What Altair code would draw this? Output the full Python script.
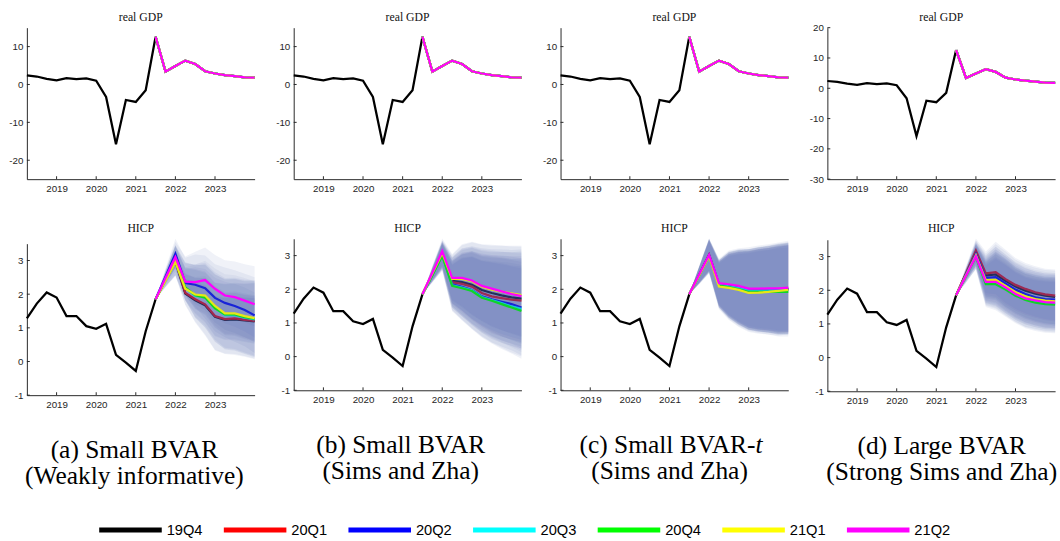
import altair as alt
import pandas as pd

# Quarterly time grid (fractional years) and year ticks
quarters_hist = [2018.25, 2018.5, 2018.75, 2019.0, 2019.25, 2019.5, 2019.75,
                 2020.0, 2020.25, 2020.5, 2020.75, 2021.0, 2021.25, 2021.5]
quarters_fc = [2021.5, 2021.75, 2022.0, 2022.25, 2022.5, 2022.75,
               2023.0, 2023.25, 2023.5, 2023.75, 2024.0]
year_ticks = [2019, 2020, 2021, 2022, 2023]

# Observed data
gdp_hist = [2.4, 2.1, 1.5, 1.1, 1.7, 1.4, 1.6, 1.0, -3.3, -15.8, -4.1, -4.6, -1.5, 12.6]
hicp_hist = [1.28, 1.72, 2.05, 1.90, 1.35, 1.35, 1.05, 0.97, 1.12, 0.20, -0.03, -0.28, 0.90, 1.85]

# Conditional real GDP path (identical across estimation vintages)
gdp_fc = [12.6, 3.4, 4.9, 6.3, 5.4, 3.5, 2.9, 2.5, 2.2, 1.9, 1.8]

vintages = ["19Q4", "20Q1", "20Q2", "20Q3", "20Q4", "21Q1", "21Q2"]
vintage_colors = ["#000000", "#ff0000", "#0000ff", "#00ffff", "#00ff00", "#ffff00", "#ff00ff"]

# HICP median forecasts, one path per vintage (order of `vintages`)
hicp_fc_a = [
    [1.85, 2.42, 2.98, 2.02, 1.82, 1.67, 1.33, 1.24, 1.25, 1.22, 1.19],
    [1.85, 2.43, 3.00, 2.04, 1.85, 1.70, 1.35, 1.26, 1.28, 1.24, 1.21],
    [1.85, 2.52, 3.20, 2.33, 2.28, 2.18, 1.89, 1.74, 1.65, 1.53, 1.37],
    [1.85, 2.43, 3.00, 2.18, 1.95, 1.92, 1.60, 1.38, 1.38, 1.30, 1.25],
    [1.85, 2.43, 3.00, 2.20, 1.97, 1.90, 1.58, 1.40, 1.40, 1.32, 1.27],
    [1.85, 2.40, 2.96, 2.16, 1.99, 1.96, 1.65, 1.43, 1.43, 1.35, 1.29],
    [1.85, 2.48, 3.10, 2.37, 2.36, 2.42, 2.16, 1.96, 1.91, 1.81, 1.70],
]
hicp_fc_b = [
    [1.85, 2.45, 3.05, 2.25, 2.21, 2.13, 1.98, 1.89, 1.82, 1.76, 1.72],
    [1.85, 2.45, 3.05, 2.21, 2.16, 2.08, 1.89, 1.79, 1.74, 1.69, 1.66],
    [1.85, 2.43, 3.02, 2.15, 2.07, 1.98, 1.79, 1.70, 1.63, 1.56, 1.46],
    [1.85, 2.43, 3.02, 2.12, 2.05, 1.97, 1.77, 1.68, 1.59, 1.49, 1.42],
    [1.85, 2.42, 3.00, 2.10, 2.03, 1.95, 1.75, 1.66, 1.56, 1.46, 1.36],
    [1.85, 2.47, 3.08, 2.31, 2.31, 2.24, 2.08, 1.99, 1.93, 1.88, 1.83],
    [1.85, 2.49, 3.13, 2.34, 2.34, 2.26, 2.10, 2.02, 1.94, 1.86, 1.80],
]
hicp_fc_c = [
    [1.85, 2.43, 3.02, 2.15, 2.12, 2.07, 1.97, 1.98, 1.99, 2.00, 2.01],
    [1.85, 2.43, 3.02, 2.14, 2.11, 2.06, 1.96, 1.97, 1.98, 1.99, 2.00],
    [1.85, 2.43, 3.01, 2.13, 2.10, 2.05, 1.95, 1.96, 1.97, 1.98, 1.99],
    [1.85, 2.42, 3.00, 2.13, 2.09, 2.04, 1.96, 1.96, 1.97, 1.97, 1.98],
    [1.85, 2.42, 2.99, 2.11, 2.06, 2.00, 1.92, 1.92, 1.92, 1.92, 1.92],
    [1.85, 2.41, 2.98, 2.08, 2.04, 1.98, 1.89, 1.90, 1.92, 1.95, 1.98],
    [1.85, 2.44, 3.02, 2.18, 2.15, 2.10, 2.02, 2.02, 2.03, 2.03, 2.05],
]
hicp_fc_d = [
    [1.85, 2.48, 3.12, 2.44, 2.47, 2.28, 2.11, 1.99, 1.90, 1.84, 1.80],
    [1.85, 2.51, 3.18, 2.50, 2.54, 2.33, 2.16, 2.04, 1.94, 1.88, 1.84],
    [1.85, 2.47, 3.08, 2.37, 2.39, 2.20, 2.02, 1.89, 1.79, 1.74, 1.72],
    [1.85, 2.44, 3.03, 2.22, 2.22, 2.05, 1.87, 1.74, 1.67, 1.62, 1.60],
    [1.85, 2.42, 3.00, 2.18, 2.18, 2.02, 1.84, 1.71, 1.63, 1.59, 1.57],
    [1.85, 2.44, 3.03, 2.30, 2.31, 2.13, 1.94, 1.82, 1.74, 1.69, 1.67],
    [1.85, 2.43, 3.01, 2.25, 2.25, 2.08, 1.89, 1.76, 1.70, 1.65, 1.63],
]

# Credible-band distances from each median path (outer and inner bands)
bands_a = {
    "outer_up": [0, 0.25, 0.45, 0.75, 0.90, 0.97, 1.00, 1.05, 1.06, 1.08, 1.13],
    "outer_dn": [0, 0.20, 0.43, 0.35, 0.66, 0.90, 1.00, 1.02, 1.06, 1.08, 1.12],
    "inner_up": [0, 0.12, 0.22, 0.42, 0.52, 0.57, 0.60, 0.63, 0.65, 0.67, 0.68],
    "inner_dn": [0, 0.10, 0.20, 0.22, 0.40, 0.52, 0.58, 0.60, 0.62, 0.64, 0.66],
}
bands_b = {
    "outer_up": [0, 0.20, 0.38, 0.71, 1.00, 1.15, 1.24, 1.30, 1.36, 1.41, 1.46],
    "outer_dn": [0, 0.22, 0.45, 0.75, 0.96, 1.14, 1.18, 1.27, 1.33, 1.37, 1.42],
    "inner_up": [0, 0.17, 0.32, 0.62, 0.88, 1.00, 1.08, 1.13, 1.18, 1.22, 1.26],
    "inner_dn": [0, 0.19, 0.38, 0.65, 0.84, 1.00, 1.03, 1.10, 1.15, 1.18, 1.22],
}
bands_c = {
    "outer_up": [0, 0.25, 0.49, 0.73, 1.00, 1.12, 1.23, 1.28, 1.31, 1.36, 1.39],
    "outer_dn": [0, 0.26, 0.51, 0.67, 0.95, 1.10, 1.16, 1.22, 1.26, 1.32, 1.32],
    "inner_up": [0, 0.22, 0.45, 0.68, 0.94, 1.06, 1.17, 1.22, 1.25, 1.29, 1.32],
    "inner_dn": [0, 0.23, 0.46, 0.62, 0.89, 1.04, 1.10, 1.16, 1.20, 1.25, 1.26],
}
bands_d = {
    "outer_up": [0, 0.20, 0.36, 0.65, 0.90, 0.87, 0.80, 0.77, 0.77, 0.76, 0.78],
    "outer_dn": [0, 0.20, 0.38, 0.68, 0.77, 0.81, 0.82, 0.84, 0.84, 0.85, 0.85],
    "inner_up": [0, 0.15, 0.30, 0.55, 0.75, 0.72, 0.68, 0.66, 0.66, 0.66, 0.67],
    "inner_dn": [0, 0.15, 0.30, 0.58, 0.66, 0.70, 0.71, 0.72, 0.72, 0.73, 0.73],
}

gdp_domains = [[-25, 15], [-25, 15], [-25, 15], [-30, 20]]
gdp_ticks = [[-20, -10, 0, 10], [-20, -10, 0, 10], [-20, -10, 0, 10], [-30, -20, -10, 0, 10, 20]]
hicp_domain = [-1, 3.5]
hicp_ticks = [-1, 0, 1, 2, 3]

caption_lines = [
    ["(a) Small BVAR", "(Weakly informative)"],
    ["(b) Small BVAR", "(Sims and Zha)"],
    ["(c) Small BVAR-", "(Sims and Zha)"],
    ["(d) Large BVAR", "(Strong Sims and Zha)"],
]
caption_italic_tail = [None, None, "t", None]
caption_centers = [110, 109.5, 111.5, 117]

W, H = 233, 155
AXIS_EXT = 25
INK = "#262626"
BAND = "#3c5aaa"
A_OUT, A_IN = 0.08, 0.06
LW = 2.3
SERIF = "Liberation Serif"
SANS = "Liberation Sans"
CAP_SIZE = 26

color_scale = alt.Scale(domain=vintages, range=vintage_colors)


def fc_frame(paths, bands=None):
    rows = []
    for v, path in zip(vintages, paths):
        for i, (x, y) in enumerate(zip(quarters_fc, path)):
            row = {"vintage": v, "x": x, "y": y}
            if bands is not None:
                row["o_lo"] = y - bands["outer_dn"][i]
                row["o_hi"] = y + bands["outer_up"][i]
                row["i_lo"] = y - bands["inner_dn"][i]
                row["i_hi"] = y + bands["inner_up"][i]
            rows.append(row)
    return pd.DataFrame(rows)


def panel(title, hist, fc_df, domain, ticks, with_bands, title_offset=4):
    xs = alt.Scale(domain=[2018.25, 2024.0], nice=False, zero=False)
    ys = alt.Scale(domain=domain, nice=False, zero=False)
    x_axis = alt.Axis(values=year_ticks, format="d", labelPadding=5,
                      ticks=False, grid=False, title=None)
    y_axis = alt.Axis(values=ticks, labelExpr="'' + datum.value", labelPadding=4,
                      ticks=False, grid=False, title=None,
                      minExtent=AXIS_EXT, maxExtent=AXIS_EXT)
    X = alt.X("x:Q", scale=xs, axis=x_axis)
    hist_df = pd.DataFrame({"x": quarters_hist, "y": hist})
    layers = [alt.Chart(hist_df).mark_line(color="black", strokeWidth=LW).encode(
        x=X, y=alt.Y("y:Q", scale=ys, axis=y_axis))]
    base = alt.Chart(fc_df)
    for v in vintages:
        sub = base.transform_filter(alt.datum.vintage == v)
        if with_bands:
            layers.append(sub.mark_area(color=BAND, opacity=A_OUT).encode(
                x=X, y=alt.Y("o_lo:Q", scale=ys, axis=y_axis), y2="o_hi:Q"))
            layers.append(sub.mark_area(color=BAND, opacity=A_IN).encode(
                x=X, y=alt.Y("i_lo:Q", scale=ys, axis=y_axis), y2="i_hi:Q"))
        layers.append(sub.mark_line(strokeWidth=LW).encode(
            x=X, y=alt.Y("y:Q", scale=ys, axis=y_axis),
            color=alt.Color("vintage:N", scale=color_scale, legend=None)))
    # inward tick marks on both axes
    xt = alt.Chart(pd.DataFrame({"x": year_ticks})).mark_rule(color=INK, strokeWidth=1).encode(
        x=X, y=alt.value(H), y2=alt.value(H - 3))
    yt = alt.Chart(pd.DataFrame({"y": ticks})).mark_rule(color=INK, strokeWidth=1).encode(
        y=alt.Y("y:Q", scale=ys, axis=y_axis), x=alt.value(0), x2=alt.value(3))
    layers += [xt, yt]
    return alt.layer(*layers).properties(
        width=W, height=H,
        title=alt.TitleParams(title, font=SERIF, fontSize=12, fontWeight="normal",
                              color="#111111", offset=title_offset, frame="group"),
    )


def caption(lines, tail, cx):
    layers = []
    style = dict(font=SERIF, fontSize=CAP_SIZE, color="black", baseline="middle")
    if tail is None:
        layers.append(alt.Chart(pd.DataFrame({"t": [lines[0]]})).mark_text(align="center", **style)
                      .encode(text="t:N", x=alt.value(cx), y=alt.value(27)))
    else:
        split = cx + 88
        layers.append(alt.Chart(pd.DataFrame({"t": [lines[0]]})).mark_text(align="right", **style)
                      .encode(text="t:N", x=alt.value(split), y=alt.value(27)))
        layers.append(alt.Chart(pd.DataFrame({"t": [tail]})).mark_text(align="left", fontStyle="italic", **style)
                      .encode(text="t:N", x=alt.value(split), y=alt.value(27)))
    layers.append(alt.Chart(pd.DataFrame({"t": [lines[1]]})).mark_text(align="center", **style)
                  .encode(text="t:N", x=alt.value(cx), y=alt.value(53.5)))
    return alt.layer(*layers).properties(width=W, height=62)


def legend_row():
    # one entry per vintage: a thick line sample followed by its label
    leg_df = pd.DataFrame({"vintage": vintages})
    lx = alt.X("vintage:N", scale=alt.Scale(domain=vintages, range=[106, 871], padding=0),
               axis=None)
    swatch = alt.Chart(leg_df).mark_point(shape="stroke", size=4096, strokeWidth=5,
                                          filled=False, opacity=1).encode(
        x=lx, y=alt.value(9),
        color=alt.Color("vintage:N", scale=color_scale, legend=None))
    labels = alt.Chart(leg_df).mark_text(align="left", baseline="middle", dx=37, font=SANS,
                                         fontSize=15, color="black").encode(
        x=lx, y=alt.value(9), text="vintage:N")
    return alt.layer(swatch, labels).properties(width=990, height=18)


hicp_sets = [hicp_fc_a, hicp_fc_b, hicp_fc_c, hicp_fc_d]
band_sets = [bands_a, bands_b, bands_c, bands_d]
gdp_df = fc_frame([gdp_fc] * len(vintages))

columns = []
for i in range(4):
    # the taller GDP scale of the last panel puts a label above the frame
    top = panel("real GDP", gdp_hist, gdp_df, gdp_domains[i], gdp_ticks[i], False,
                title_offset=-1 if i == 3 else 4)
    bottom = panel("HICP", hicp_hist, fc_frame(hicp_sets[i], band_sets[i]), hicp_domain,
                   hicp_ticks, True)
    cap = caption(caption_lines[i], caption_italic_tail[i], caption_centers[i])
    col = alt.vconcat(alt.vconcat(top, bottom, spacing=28), cap, spacing=14)
    columns.append(col)

chart = (
    alt.vconcat(alt.hconcat(*columns, spacing=10), legend_row(), spacing=32)
    .properties(padding={"left": 2.5, "top": 5, "right": 0, "bottom": 0})
    .configure_view(stroke=None)
    .configure_axis(domainColor=INK, domainWidth=1, labelColor=INK, labelFont=SANS, labelFontSize=10)
)

chart.save("out.html", embed_options={"renderer": "svg", "actions": False})
